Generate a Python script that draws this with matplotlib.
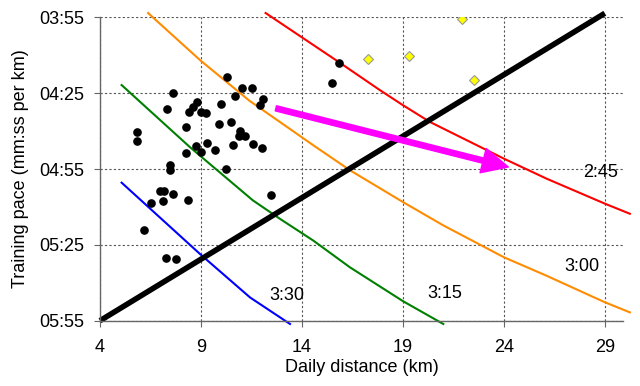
import matplotlib
matplotlib.use("Agg")
import matplotlib.pyplot as plt
from matplotlib.ticker import FuncFormatter
from matplotlib.patches import FancyArrowPatch

plt.rcParams['font.family'] = ['Liberation Sans', 'DejaVu Sans']

# Training runs (distance km, pace in seconds per km)
run_dist = [10.31, 11.01, 11.54, 10.68, 12.08, 11.94, 7.63, 7.34, 8.80, 8.60,
            8.41, 9.02, 9.25, 9.98, 9.89, 10.50, 8.26, 10.93, 10.90, 11.18,
            5.81, 5.81, 8.75, 9.30, 9.02, 8.24, 9.69, 10.58, 11.59, 12.03,
            7.47, 7.47, 10.24, 12.48, 6.95, 7.18, 7.63, 6.52, 7.10, 8.37,
            6.20, 7.27, 7.76, 15.83, 15.50]
run_pace = [258.7, 263.1, 263.1, 266.0, 267.4, 269.8, 264.9, 271.1, 268.6, 270.6,
            272.5, 272.5, 272.9, 269.4, 277.1, 276.5, 278.4, 279.9, 281.9, 282.1,
            280.5, 283.8, 286.0, 284.8, 288.1, 288.5, 287.3, 285.6, 285.2, 286.5,
            293.6, 295.3, 294.9, 305.2, 303.7, 303.7, 304.7, 308.3, 307.6, 307.2,
            319.0, 330.1, 330.4, 253.0, 260.9]

# Races (yellow diamonds)
race_dist = [17.27, 19.30, 21.92, 22.51]
race_pace = [251.5, 250.3, 235.7, 259.9]

# Marathon-time curves
c245_x = [12.2, 15.9, 17.86, 19.01, 20.34, 24.0, 26.11, 29.0, 30.24]
c245_y = [233.3, 253.1, 263.8, 269.8, 276.4, 290.9, 298.8, 308.7, 312.7]
c300_x = [6.38, 8.95, 11.4, 12.91, 14.56, 16.38, 19.01, 21.0, 24.0, 26.11, 29.0, 30.24]
c300_y = [233.3, 251.9, 268.0, 276.4, 285.6, 295.5, 308.1, 317.3, 329.9, 337.2, 347.7, 351.7]
c315_x = [5.07, 8.46, 11.57, 12.91, 14.56, 16.38, 19.01, 21.0]
c315_y = [261.8, 286.4, 307.4, 314.7, 323.3, 333.9, 347.3, 356.3]
c330_x = [5.07, 8.95, 11.43, 13.41]
c330_y = [300.4, 328.6, 345.8, 356.3]

trend_x = [4.0, 29.0]
trend_y = [355.0, 233.4]

arrow_from = (12.71, 271.0)
arrow_to = (24.22, 294.2)

curve_labels = ["2:45", "3:00", "3:15", "3:30"]
label_x = [28.80, 27.86, 21.08, 13.26]
label_y = [296.3, 333.6, 344.3, 345.1]

x_ticks = [4, 9, 14, 19, 24, 29]
y_ticks = [235, 265, 295, 325, 355]

fig = plt.figure(figsize=(6.4, 3.86), dpi=100)
ax = fig.add_axes([100/640, (386-320.7)/386, 523/640, (320.7-17.3)/386])

ax.set_xlim(4, 29.9)
ax.set_ylim(355, 235)

ax.set_xticks(x_ticks)
ax.set_yticks(y_ticks)
ax.yaxis.set_major_formatter(FuncFormatter(lambda v, p: "%02d:%02d" % (int(v)//60, int(v) % 60)))

ax.grid(True, color='#555555', linestyle=(0, (2, 2)), linewidth=0.8)
ax.set_axisbelow(True)
for s in ['top', 'right']:
    ax.spines[s].set_visible(False)
for s in ['left', 'bottom']:
    ax.spines[s].set_color('#666666')
    ax.spines[s].set_linewidth(1.0)
ax.tick_params(axis='both', direction='out', length=4, color='#666666', labelsize=13)
ax.tick_params(axis='x', pad=9)
ax.tick_params(axis='y', pad=7)

ax.plot(c245_x, c245_y, color='#ff0000', lw=1.5, clip_on=False)
ax.plot(c300_x, c300_y, color='#ff8c00', lw=1.5, clip_on=False)
ax.plot(c315_x, c315_y, color='#008000', lw=1.5, clip_on=False)
ax.plot(c330_x, c330_y, color='#0000ff', lw=1.5, clip_on=False)

ax.plot(trend_x, trend_y, color='black', lw=4, clip_on=False, solid_capstyle='butt')

ax.plot(run_dist, run_pace, 'o', color='black', ms=5.2, zorder=5)
ax.plot(race_dist, race_pace, 'D', color='#ffff00', mec='#999999', mew=0.8, ms=5.5, zorder=5)

arr = FancyArrowPatch(arrow_from, arrow_to,
                      arrowstyle='simple,head_length=1.87,head_width=1.8,tail_width=0.38',
                      mutation_scale=10, color='#ff00ff', shrinkA=0, shrinkB=0, zorder=6)
ax.add_patch(arr)

for t, lx, ly in zip(curve_labels, label_x, label_y):
    ax.text(lx, ly, t, fontsize=13, ha='center', va='center')

ax.set_xlabel("Daily distance (km)", fontsize=13, labelpad=2)
ax.set_ylabel("Training pace (mm:ss per km)", fontsize=13, labelpad=8)

fig.savefig("out.png", dpi=100)
